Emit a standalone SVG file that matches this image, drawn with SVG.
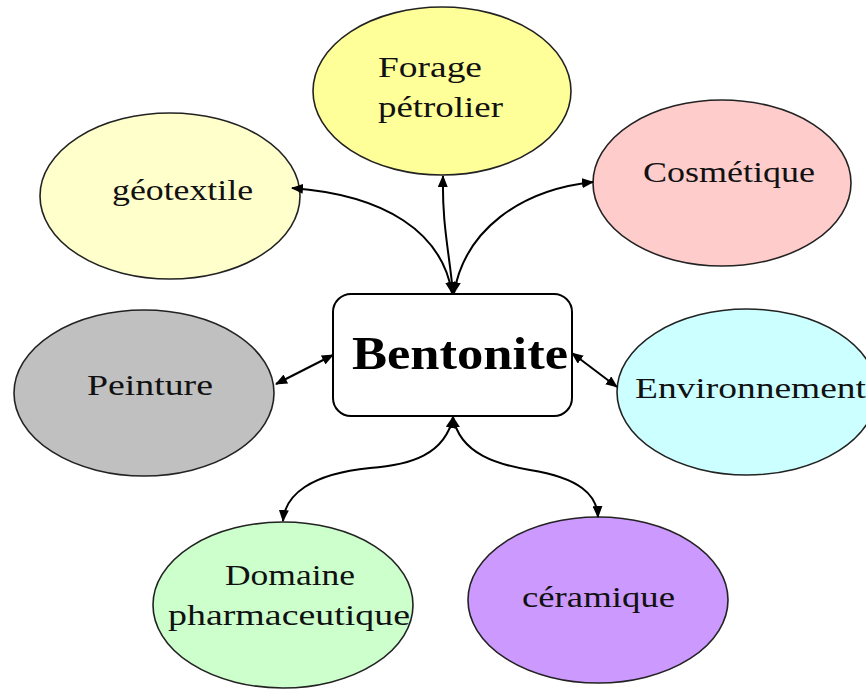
<svg xmlns="http://www.w3.org/2000/svg" width="866" height="689" viewBox="0 0 866 689">
<style>
.n{stroke:#222;stroke-width:1.6}
.t{font-family:"Liberation Serif","DejaVu Serif",serif;font-size:29px;fill:#111}
.c{fill:none;stroke:#000;stroke-width:2;marker-start:url(#ah);marker-end:url(#ah)}
</style>
<defs>
<marker id="ah" viewBox="0 0 12 10" refX="11" refY="5" markerWidth="12" markerHeight="10" markerUnits="userSpaceOnUse" orient="auto-start-reverse">
<path d="M0,0 L12,5 L0,10 Z" fill="#000"/>
</marker>
</defs>
<rect width="866" height="689" fill="#fff"/>
<g id="geotextile">
<ellipse class="n" cx="170" cy="196" rx="130" ry="83" fill="#FFFFCC"/>
<text class="t" x="112" y="200" textLength="141" lengthAdjust="spacingAndGlyphs">géotextile</text>
</g>
<g id="forage">
<ellipse class="n" cx="442" cy="91" rx="129" ry="84" fill="#FFFF99"/>
<text class="t" x="378" y="77" textLength="104" lengthAdjust="spacingAndGlyphs">Forage</text>
<text class="t" x="378" y="117" textLength="125" lengthAdjust="spacingAndGlyphs">pétrolier</text>
</g>
<g id="cosmetique">
<ellipse class="n" cx="722" cy="183" rx="129" ry="83" fill="#FFCCCC"/>
<text class="t" x="643" y="182" textLength="172" lengthAdjust="spacingAndGlyphs">Cosmétique</text>
</g>
<g id="peinture">
<ellipse class="n" cx="144" cy="393" rx="130" ry="83" fill="#C0C0C0"/>
<text class="t" x="87" y="395" textLength="126" lengthAdjust="spacingAndGlyphs">Peinture</text>
</g>
<g id="environnement">
<ellipse class="n" cx="747" cy="392" rx="130" ry="83" fill="#CCFFFF"/>
<text class="t" x="635" y="398" textLength="231" lengthAdjust="spacingAndGlyphs">Environnement</text>
</g>
<g id="domaine">
<ellipse class="n" cx="283" cy="605" rx="130" ry="83" fill="#CCFFCC"/>
<text class="t" x="225" y="585" textLength="130" lengthAdjust="spacingAndGlyphs">Domaine</text>
<text class="t" x="168" y="625" textLength="242" lengthAdjust="spacingAndGlyphs">pharmaceutique</text>
</g>
<g id="ceramique">
<ellipse class="n" cx="598" cy="600" rx="130" ry="83" fill="#CC99FF"/>
<text class="t" x="522" y="607" textLength="153" lengthAdjust="spacingAndGlyphs">céramique</text>
</g>
<g id="bentonite">
<rect x="333" y="294" width="239" height="122" rx="18" fill="#fff" stroke="#000" stroke-width="2"/>
<text x="352" y="369" font-family="'Liberation Serif','DejaVu Serif',serif" font-size="46" font-weight="bold" fill="#000" textLength="216" lengthAdjust="spacingAndGlyphs">Bentonite</text>
</g>
<g id="connectors">
<path class="c" d="M452,293 C442,232 385,195 292,188"/>
<path class="c" d="M453,293 C449,250 442,225 443,176"/>
<path class="c" d="M454,293 C465,230 520,190 593,182"/>
<path class="c" d="M333,355 L276,384"/>
<path class="c" d="M572,353 L617,387"/>
<path class="c" d="M453,417 C445,455 410,465 370,468 C310,474 285,495 283,521"/>
<path class="c" d="M453,417 C460,455 500,465 530,470 C580,478 597,495 598,517"/>
</g>
</svg>
